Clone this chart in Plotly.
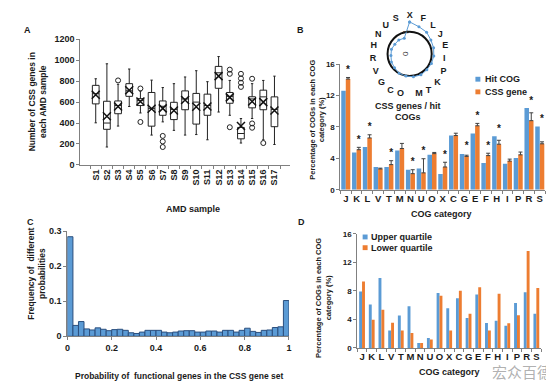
import plotly.graph_objects as go

W, H = 554, 381
def px(x): return x / W
def py(y): return 1 - y / H

BLUE = "#5b9bd5"
ORANGE = "#ed7d31"
AX = "#808080"
TXT = "#1a1a1a"
FONT = "Liberation Sans"

# ---------------- Panel A data ----------------
samples = ["S%d" % i for i in range(1, 18)]
a_low = [402, 171, 371, 558, 496, 285, 411, 330, 285, 290, 240, 505, 474, 209, 443, 240, 195]
a_q1 = [583, 340, 489, 655, 567, 370, 474, 433, 527, 390, 474, 732, 589, 249, 545, 527, 365]
a_med = [680, 400, 567, 708, 614, 540, 560, 530, 630, 600, 567, 880, 655, 300, 630, 650, 530]
a_q3 = [760, 608, 611, 776, 633, 692, 611, 598, 707, 683, 676, 941, 692, 358, 651, 714, 650]
a_up = [823, 966, 770, 916, 705, 810, 739, 776, 840, 900, 795, 1035, 807, 443, 776, 807, 848]
a_mean = [670, 464, 558, 714, 605, 536, 540, 520, 620, 555, 558, 848, 645, 371, 605, 600, 520]
a_outliers = {
    "S3": [807], "S5": [730, 410], "S7": [277, 224, 171],
    "S13": [910, 870, 360], "S14": [870, 826, 785, 745],
    "S15": [823, 396, 355], "S16": [209],
}

# ---------------- Panel B data ----------------
cog = ["J", "K", "L", "V", "T", "M", "N", "U", "O", "X", "C", "G", "E", "F", "H", "I", "P", "R", "S"]
hit_cog = [12.6, 4.75, 5.45, 2.9, 2.9, 5.0, 2.55, 2.7, 4.45, 2.0, 6.9, 4.55, 7.15, 3.4, 6.8, 3.3, 4.05, 10.4, 8.05]
css_gene = [14.1, 5.1, 6.6, 2.65, 3.2, 5.25, 2.05, 2.15, 4.6, 2.9, 6.9, 4.25, 8.15, 4.35, 5.8, 3.65, 4.45, 8.8, 5.85]
css_err = [0.2, 0.3, 0.4, 0.1, 0.5, 0.65, 0.5, 1.8, 0.15, 0.6, 0.3, 0.15, 0.3, 0.3, 0.5, 0.25, 0.35, 1.0, 0.25]
signif = [1, 1, 1, 0, 1, 0, 1, 1, 0, 1, 0, 1, 1, 1, 1, 0, 0, 1, 1]

# radar inset: CSS genes / hit COGs
radar_cats = ["X", "F", "L", "J", "E", "I", "P", "K", "T", "M", "O", "C", "G", "V", "R", "H", "N", "U", "S"]
radar_ratio = [1.45, 1.3, 1.25, 1.15, 1.12, 1.1, 1.08, 1.06, 1.08, 1.05, 1.02, 1.0, 0.93, 0.9, 0.85, 0.85, 0.8, 0.8, 0.75]

# ---------------- Panel C data ----------------
n_bins = 40
bin_width = 1.0 / n_bins
bin_start = [i * bin_width for i in range(n_bins)]
freq = [0.284, 0.031, 0.042, 0.021, 0.018, 0.024, 0.020, 0.016, 0.019, 0.020,
        0.017, 0.010, 0.008, 0.012, 0.017, 0.017, 0.017, 0.012, 0.010, 0.012,
        0.015, 0.016, 0.016, 0.012, 0.012, 0.015, 0.015, 0.012, 0.017, 0.017,
        0.012, 0.017, 0.023, 0.014, 0.011, 0.017, 0.018, 0.025, 0.027, 0.102]

# ---------------- Panel D data ----------------
upper_q = [7.9, 6.1, 9.8, 2.45, 4.55, 5.85, 0.7, 1.4, 7.7, 5.55, 6.95, 4.2, 7.5, 3.5, 3.8, 3.1, 6.3, 7.8, 4.8]
lower_q = [9.3, 3.95, 5.35, 3.55, 2.45, 2.1, 0.7, 1.2, 7.3, 2.45, 8.0, 4.8, 8.5, 2.45, 7.6, 3.45, 4.6, 13.6, 8.4]

fig = go.Figure()

# ---- A: boxes ----
fig.add_trace(go.Box(
    x=samples, q1=a_q1, median=a_med, q3=a_q3, lowerfence=a_low, upperfence=a_up,
    fillcolor="white", line=dict(color="#222", width=1), width=0.6, whiskerwidth=0.35,
    xaxis="x", yaxis="y", showlegend=False, hoverinfo="skip"))
fig.add_trace(go.Scatter(
    x=samples, y=a_mean, mode="markers",
    marker=dict(symbol="x-thin", size=8, line=dict(color="#111", width=1.5)),
    xaxis="x", yaxis="y", showlegend=False))
ox, oy = [], []
for s, vals in a_outliers.items():
    for v in vals:
        ox.append(s); oy.append(v)
fig.add_trace(go.Scatter(
    x=ox, y=oy, mode="markers",
    marker=dict(symbol="circle-open", size=5, color="#222", line=dict(width=1)),
    xaxis="x", yaxis="y", showlegend=False))

# ---- B: bars ----
idx = list(range(len(cog)))
bw = 0.42
fig.add_trace(go.Bar(x=idx, y=hit_cog, width=bw, offset=-bw, marker=dict(color=BLUE, line=dict(width=0)),
                     name="Hit COG", xaxis="x2", yaxis="y2", showlegend=False))
fig.add_trace(go.Bar(x=idx, y=css_gene, width=bw, offset=0, marker=dict(color=ORANGE, line=dict(width=0)),
                     name="CSS gene", xaxis="x2", yaxis="y2", showlegend=False,
                     error_y=dict(type="data", array=css_err, arrayminus=[0] * len(cog), symmetric=False,
                                  color="#404040", thickness=1, width=2)))
sx, sy = [], []
for i in idx:
    if signif[i]:
        sx.append(i + bw / 2)
        sy.append(max(css_gene[i] + css_err[i], hit_cog[i]) + 0.9)
fig.add_trace(go.Scatter(x=sx, y=sy, mode="text", text=["*"] * len(sx),
                         textfont=dict(size=10, color=TXT, family=FONT, weight="bold"),
                         xaxis="x2", yaxis="y2", showlegend=False))

# ---- radar inset ----
fig.add_trace(go.Scatterpolar(
    r=radar_ratio + radar_ratio[:1], theta=radar_cats + radar_cats[:1],
    mode="lines+markers", line=dict(color=BLUE, width=1), marker=dict(size=3, color=BLUE),
    showlegend=False, subplot="polar"))

# ---- C: histogram ----
fig.add_trace(go.Bar(x=bin_start, y=freq, width=bin_width, offset=0,
                     marker=dict(color=BLUE, line=dict(color="#2b4f7e", width=1)),
                     xaxis="x3", yaxis="y3", showlegend=False))

# ---- D: bars ----
dw = 0.3
fig.add_trace(go.Bar(x=idx, y=upper_q, width=dw, offset=-dw, marker=dict(color=BLUE, line=dict(width=0)),
                     name="Upper quartile", xaxis="x4", yaxis="y4", showlegend=False))
fig.add_trace(go.Bar(x=idx, y=lower_q, width=dw, offset=0, marker=dict(color=ORANGE, line=dict(width=0)),
                     name="Lower quartile", xaxis="x4", yaxis="y4", showlegend=False))

tf = dict(family=FONT, size=9, color=TXT, weight="bold")
def axstyle(**kw):
    d = dict(showline=True, linecolor=AX, linewidth=1, ticks="outside", ticklen=3, tickcolor=AX,
             showgrid=False, zeroline=False, tickfont=tf, fixedrange=True)
    d.update(kw)
    return d

minor_b = dict(ticks="outside", ticklen=3, tickcolor=AX, tick0=-0.5, dtick=1, showgrid=False)

fig.update_layout(
    width=W, height=H, autosize=False,
    margin=dict(l=0, r=0, t=0, b=0),
    paper_bgcolor="white", plot_bgcolor="white",
    font=dict(family=FONT, color=TXT),
    barmode="overlay",
    xaxis=axstyle(domain=[px(70), px(282)], anchor="y", type="category", tickson="boundaries",
                  tickangle=-90, tickfont=dict(family=FONT, size=9, color=TXT, weight="bold")),
    yaxis=axstyle(domain=[py(156), py(27)], anchor="x", range=[0, 1200], dtick=200),
    xaxis2=axstyle(domain=[px(333), px(540)], anchor="y2", range=[-0.5, 18.5],
                   tickvals=idx, ticktext=cog, ticks="", minor=minor_b,
                   tickfont=dict(family=FONT, size=9.5, color=TXT, weight="bold")),
    yaxis2=axstyle(domain=[py(181.5), py(52.5)], anchor="x2", range=[0, 16], dtick=4,
                   tickfont=dict(family=FONT, size=8, color=TXT, weight="bold")),
    xaxis3=axstyle(domain=[px(57), px(281)], anchor="y3", range=[0, 1],
                   tickvals=[0, 0.2, 0.4, 0.6, 0.8, 1], ticktext=["0", "0.2", "0.4", "0.6", "0.8", "1"]),
    yaxis3=axstyle(domain=[py(332), py(224)], anchor="x3", range=[0, 0.3],
                   tickvals=[0, 0.1, 0.2, 0.3], ticktext=["0", "0.1", "0.2", "0.3"]),
    xaxis4=axstyle(domain=[px(350), px(536)], anchor="y4", range=[-0.5, 18.5],
                   tickvals=idx, ticktext=cog, ticks="", minor=minor_b,
                   tickfont=dict(family=FONT, size=9.5, color=TXT, weight="bold")),
    yaxis4=axstyle(domain=[py(344), py(226.7)], anchor="x4", range=[0, 16], dtick=4,
                   tickfont=dict(family=FONT, size=8, color=TXT, weight="bold")),
    polar=dict(
        domain=dict(x=[px(369), px(437)], y=[py(76), py(8)]),
        bgcolor="rgba(0,0,0,0)",
        angularaxis=dict(rotation=90, direction="clockwise", showgrid=False, showline=False,
                         ticks="", categoryorder="array", categoryarray=radar_cats,
                         tickfont=dict(family=FONT, size=9, color=TXT, weight="bold")),
        radialaxis=dict(range=[0, 1.5], tickvals=[0, 1], ticktext=["0", "1"], showline=False,
                        showgrid=True, gridcolor="#111", gridwidth=2, angle=90, ticks="",
                        side="counterclockwise",
                        tickfont=dict(family=FONT, size=8, color="#333")),
    ),
)

ann = []
def text(x, y, s, size=9, angle=0, xanchor="center", color=TXT, bold=True, family=FONT):
    ann.append(dict(x=px(x), y=py(y), xref="paper", yref="paper", text=s, showarrow=False,
                    textangle=angle, xanchor=xanchor, yanchor="middle",
                    font=dict(family=family, size=size, color=color, weight="bold" if bold else "normal")))

# panel letters
text(17, 17, "A"); text(293, 17, "B"); text(20, 215, "C"); text(294, 215, "D")
# axis titles
text(27, 91, "Number of CSS genes in<br>each AMD sample", size=8.5, angle=-90)
text(184, 201, "AMD sample", size=9)
text(309, 110, "Percentage of COGs in each COG<br>category (%)", size=7.5, angle=-90)
text(435, 206, "COG category", size=9)
text(26, 268, "Frequency of  different<br>probabilities", size=8.5, angle=-90)
text(170, 373, "Probability of  functional genes in the CSS gene set", size=8.5)
text(316, 293, "Percentage of COGs in each COG<br>category (%)", size=7.5, angle=-90)
text(443, 369, "COG category", size=9)
# radar caption
text(401, 95, "CSS genes / hit", size=9)
text(401, 107, "COGs", size=9)
# legends
text(477, 68, "Hit COG", size=9, xanchor="left")
text(477, 81, "CSS gene", size=9, xanchor="left")
text(362, 230, "Upper quartile", size=9, xanchor="left")
text(362, 241, "Lower quartile", size=9, xanchor="left")
# watermark
text(517, 368, "宏众百德", size=15, color="rgba(110,110,110,0.55)", bold=False, family="Noto Sans CJK SC")
fig.update_layout(annotations=ann)

shapes = []
for (x, y, c) in [(472, 68, BLUE), (472, 81, ORANGE), (358, 230, BLUE), (358, 241, ORANGE)]:
    shapes.append(dict(type="rect", xref="paper", yref="paper", x0=px(x - 2.5), x1=px(x + 2.5),
                       y0=py(y + 2.5), y1=py(y - 2.5), fillcolor=c, line=dict(width=0)))
fig.update_layout(shapes=shapes)

fig.write_html("out.html")
